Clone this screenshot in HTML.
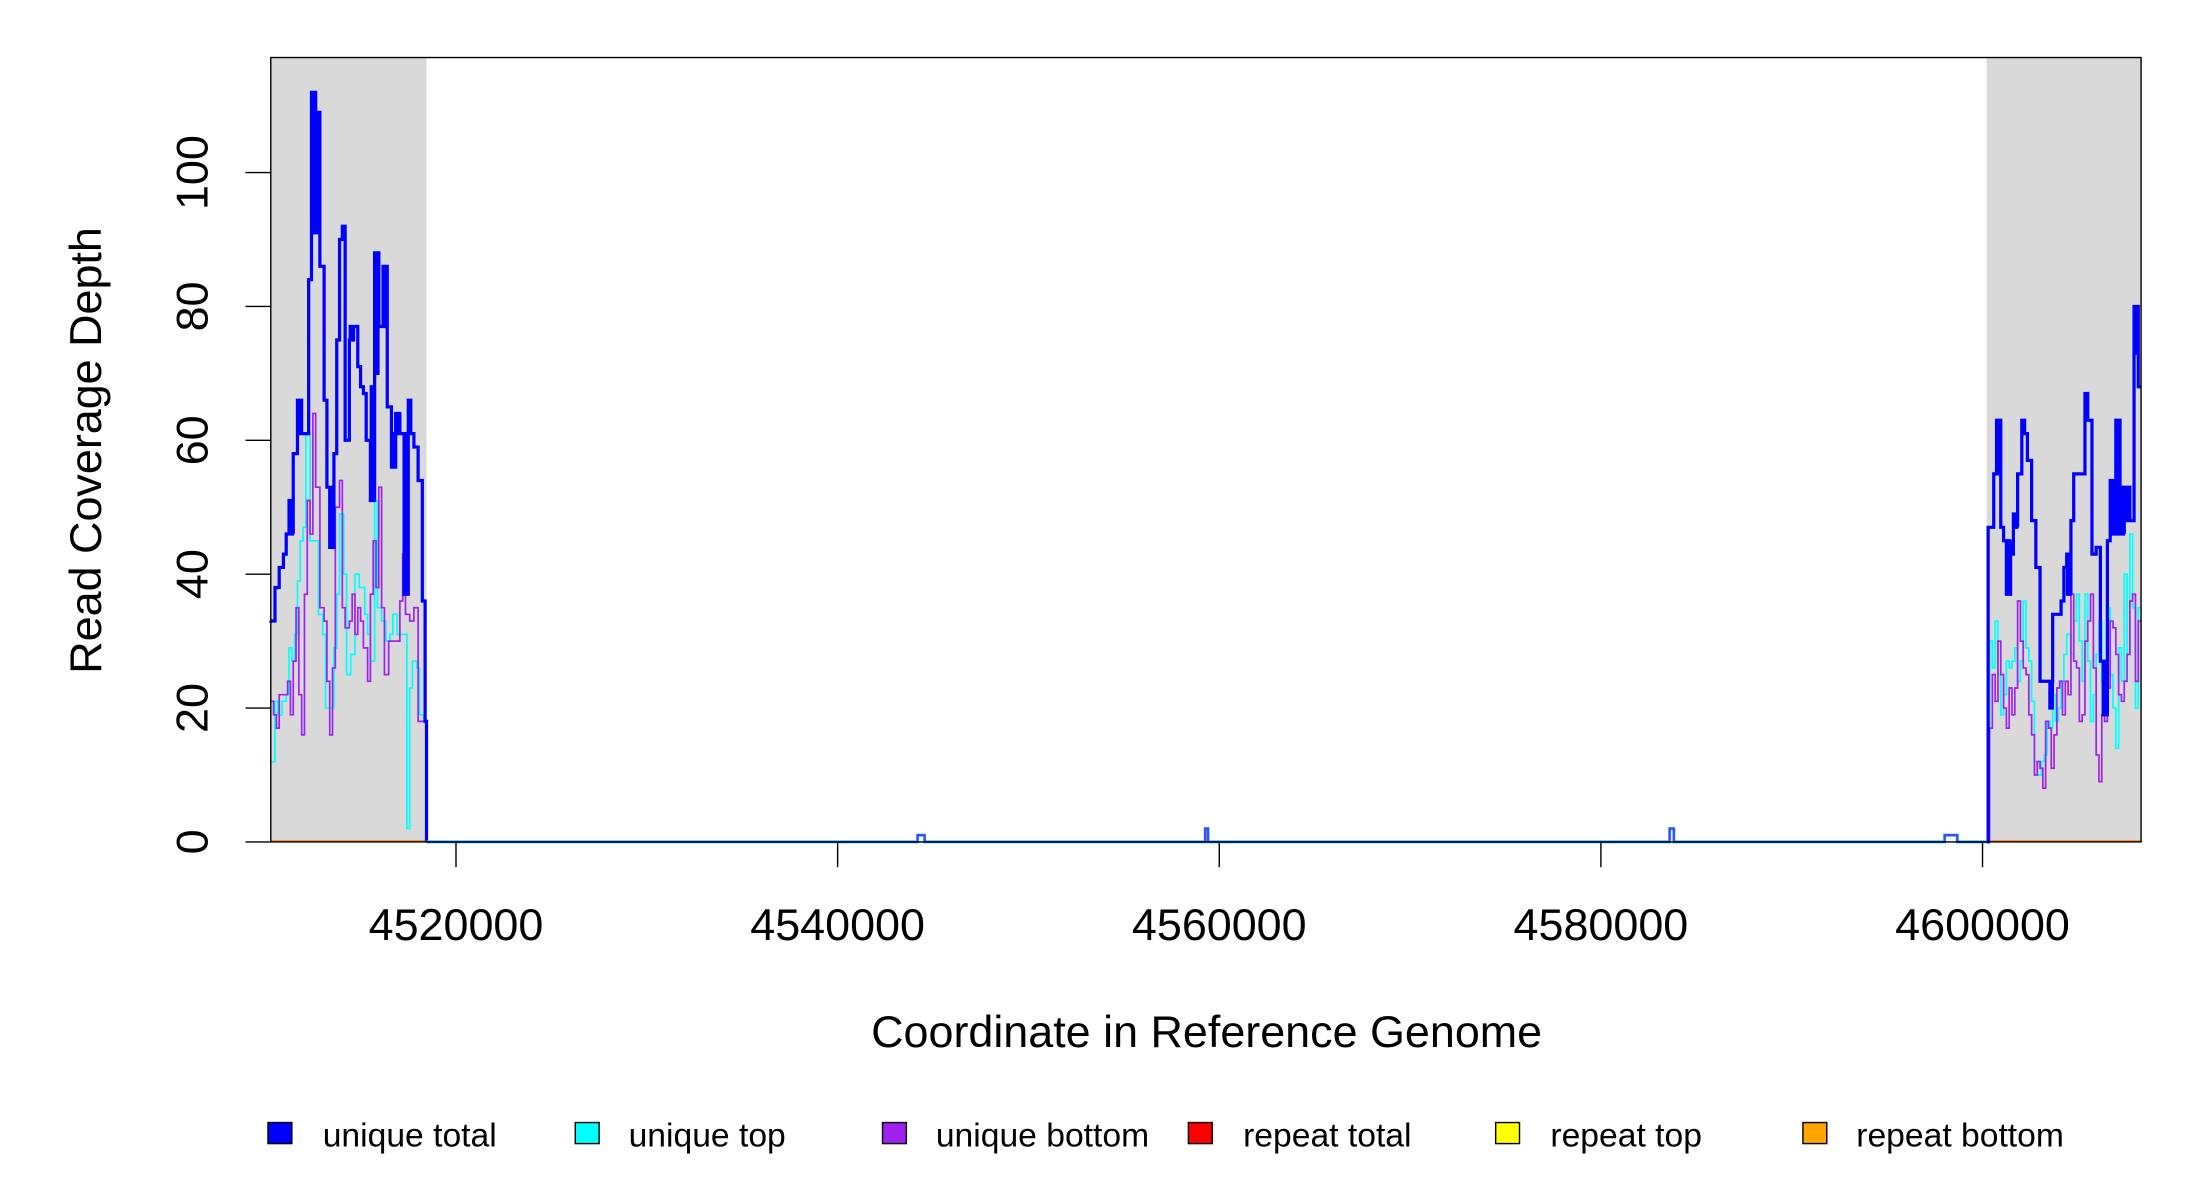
<!DOCTYPE html>
<html><head><meta charset="utf-8"><style>
html,body{margin:0;padding:0;background:#fff;}
svg{display:block;}
text{font-family:"Liberation Sans",Arial,sans-serif;fill:#000;}
</style></head><body>
<svg id="s" width="2200" height="1200" viewBox="0 0 1568 855.2" preserveAspectRatio="none" xmlns="http://www.w3.org/2000/svg">
<rect x="193" y="41" width="111" height="559" fill="#d9d9d9"/>
<rect x="1416" y="41" width="110" height="559" fill="#d9d9d9"/>
<g id="data"></g>
<rect x="193" y="41" width="1333" height="559" fill="none" stroke="#000" stroke-width="1"/>
<g stroke="#000" stroke-width="1">
<line x1="175" y1="600" x2="193" y2="600"/><line x1="175" y1="504.6" x2="193" y2="504.6"/>
<line x1="175" y1="409.2" x2="193" y2="409.2"/><line x1="175" y1="313.8" x2="193" y2="313.8"/>
<line x1="175" y1="218.4" x2="193" y2="218.4"/><line x1="175" y1="123" x2="193" y2="123"/>
<line x1="325" y1="600" x2="325" y2="618"/><line x1="597" y1="600" x2="597" y2="618"/>
<line x1="869" y1="600" x2="869" y2="618"/><line x1="1141" y1="600" x2="1141" y2="618"/>
<line x1="1413" y1="600" x2="1413" y2="618"/>
</g>
<g font-size="32" text-anchor="middle">
<text transform="translate(148,600) rotate(-90)">0</text>
<text transform="translate(148,504.6) rotate(-90)">20</text>
<text transform="translate(148,409.2) rotate(-90)">40</text>
<text transform="translate(148,313.8) rotate(-90)">60</text>
<text transform="translate(148,218.4) rotate(-90)">80</text>
<text transform="translate(148,123) rotate(-90)">100</text>
<text x="325" y="670">4520000</text><text x="597" y="670">4540000</text>
<text x="869" y="670">4560000</text><text x="1141" y="670">4580000</text>
<text x="1413" y="670">4600000</text>
<text x="860" y="746">Coordinate in Reference Genome</text>
<text transform="translate(72,321) rotate(-90)">Read Coverage Depth</text>
</g>
<g font-size="22" stroke="#000" stroke-width="1">
<rect x="191" y="800" width="17" height="15" fill="#0000ff"/>
<rect x="410" y="800" width="17" height="15" fill="#00ffff"/>
<rect x="629" y="800" width="17" height="15" fill="#a020f0"/>
<rect x="847" y="800" width="17" height="15" fill="#ff0000"/>
<rect x="1066" y="800" width="17" height="15" fill="#ffff00"/>
<rect x="1285" y="800" width="17" height="15" fill="#ffa500"/>
</g>
<g font-size="24">
<text x="230" y="817">unique total</text><text x="448" y="817">unique top</text>
<text x="667" y="817">unique bottom</text><text x="886" y="817">repeat total</text>
<text x="1105" y="817">repeat top</text><text x="1323" y="817">repeat bottom</text>
</g>
</svg>
<script>
function Y(v){return 600-v*4.77;}
function path(pts,end){
 let d="M"+pts[0][0]+","+Y(pts[0][1]);
 for(let i=0;i<pts.length;i++){
  const p=pts[i], nx=(i+1<pts.length)?pts[i+1][0]:end;
  if(p.length==3){
   let x=p[0],t=0;
   while(x<nx){d+="V"+Y(t%2?p[2]:p[1]).toFixed(1);let x2=Math.min(nx,x+0.6);d+="H"+x2.toFixed(1);x=x2;t++;}
  } else {d+="V"+Y(p[1]).toFixed(1)+"H"+nx;}
 }
 return d;
}
const blueL=[[193,33],[196,38],[199,41],[202,43],[204,46],[206,51,46],[209,58],[212,66,61],[215,61],[218,61],[220,84],[222,112,91],[225,109,91],[228,86],[231,66],[233,53],[235,44,53],[238,58],[240,75],[242,90],[244,92],[246,60],[249,75,77],[252,77],[255,71],[257,68],[259,67],[261,60],[264,51,68],[267,88,70],[270,77],[273,86,77],[276,65],[279,56,61],[282,64,61],[285,61],[288,37,61],[291,66,61],[293,61],[295,59],[298,54],[301,36],[303,18],[304,0]];
const cyanL=[[193,12],[196,21],[198,19],[201,21],[204,22],[206,29],[208,27],[210,31],[212,39],[214,45],[216,47],[218,61],[221,45],[224,45],[227,34],[230,31],[232,20],[235,20],[238,29],[240,37],[242,49],[245,40],[247,25],[250,28],[253,40],[256,38],[260,34],[262,31],[264,27],[267,51],[269,35],[272,33],[275,30],[278,31],[280,34],[283,31],[290,2],[292,23],[294,27],[297,26],[299,19],[302,18],[304,0]];
const purpL=[[193,21],[195,19],[197,17],[199,22],[202,22],[205,24],[207,19],[209,27],[211,35],[213,22],[215,16],[217,37],[219,51],[221,46],[223,64],[225,53],[228,35],[231,33],[233,24],[235,16],[237,26],[239,50],[242,54],[244,35],[246,32],[249,33],[251,37],[253,31],[255,35],[257,33],[259,29],[262,24],[264,37],[266,45],[268,38],[270,53],[272,35],[274,25],[277,30],[280,30],[282,30],[285,36],[287,43],[289,34],[292,33],[295,35],[298,18],[304,0]];
const mid=[[304,0],[654,0],[654,1],[659,0],[859,0],[859,2],[861,0],[1190,0],[1190,2],[1193,0],[1386,0],[1386,1],[1395,0],[1416,0]];
const blueR=[[1416,0],[1417,47],[1419,47],[1421,55],[1423,63,55],[1426,47],[1428,45],[1430,37,45],[1433,43],[1435,49,47],[1438,55],[1441,63],[1443,61],[1445,57],[1448,48],[1451,41],[1454,24],[1458,24],[1461,20,24],[1463,34],[1467,34],[1469,36],[1471,41],[1473,43,37],[1476,48],[1478,55],[1483,55],[1486,67],[1488,63],[1491,43],[1494,44],[1497,27],[1499,19,27],[1502,45],[1504,54,46],[1508,63,46],[1511,53,46],[1514,53,48],[1518,48],[1521,80,73],[1524,68]];
const cyanR=[[1416,0],[1418,30],[1420,26],[1422,33],[1424,25],[1426,19],[1428,22],[1430,27],[1432,26],[1434,27],[1436,29],[1438,24],[1440,27],[1442,36],[1444,29],[1446,27],[1448,21],[1450,12],[1452,10],[1455,12],[1457,13],[1459,18],[1461,17],[1463,22],[1465,18],[1467,20],[1469,24],[1471,28],[1473,31],[1476,28],[1478,33],[1480,37],[1482,30],[1484,24],[1486,37],[1488,27],[1490,18],[1492,22],[1494,28],[1496,33],[1498,24],[1500,19],[1502,35],[1504,25],[1506,20],[1508,14],[1510,29],[1512,24],[1514,40],[1516,28],[1518,46],[1520,35],[1522,20],[1524,35]];
const purpR=[[1416,0],[1418,17],[1420,25],[1422,21],[1424,30],[1426,25],[1428,20],[1430,17],[1432,23],[1434,19],[1436,23],[1438,36],[1440,30],[1442,26],[1444,25],[1446,19],[1448,16],[1450,10],[1452,12],[1454,11],[1456,8],[1458,18],[1460,17],[1462,11],[1464,16],[1466,23],[1468,24],[1470,19],[1472,24],[1474,22],[1476,37],[1478,27],[1480,26],[1482,18],[1484,19],[1486,30],[1488,33],[1490,37],[1492,26],[1494,13],[1496,9],[1498,19],[1500,18],[1502,23],[1504,33],[1506,32],[1508,28],[1510,22],[1512,21],[1514,24],[1516,28],[1518,36],[1520,37],[1522,24],[1524,33]];
let h='';
h+='<line x1="193" y1="599.5" x2="304" y2="599.5" stroke="#ff8c00" stroke-width="1.5"/>';
h+='<line x1="1416" y1="599.5" x2="1526" y2="599.5" stroke="#ff8c00" stroke-width="1.5"/>';
h+='<path d="'+path(cyanL,304)+'" fill="none" stroke="#00ffff" stroke-width="1.2"/>';
h+='<path d="'+path(cyanR,1526)+'" fill="none" stroke="#00ffff" stroke-width="1.2"/>';
h+='<path d="'+path(purpL,304)+'" fill="none" stroke="#a020f0" stroke-width="1.2"/>';
h+='<path d="'+path(purpR,1526)+'" fill="none" stroke="#a020f0" stroke-width="1.2"/>';
h+='<path d="'+path(blueL,304)+'" fill="none" stroke="#0000ff" stroke-width="2.3"/>';
h+='<path d="'+path(blueR,1526)+'" fill="none" stroke="#0000ff" stroke-width="2.3"/>';
h+='<path d="'+path(mid,1416)+'" fill="none" stroke="#00ffff" stroke-width="2.2"/>';
h+='<path d="'+path(mid,1416)+'" fill="none" stroke="#5a3cf0" stroke-width="1.6"/>';
document.getElementById('data').innerHTML=h;
</script>
</body></html>
